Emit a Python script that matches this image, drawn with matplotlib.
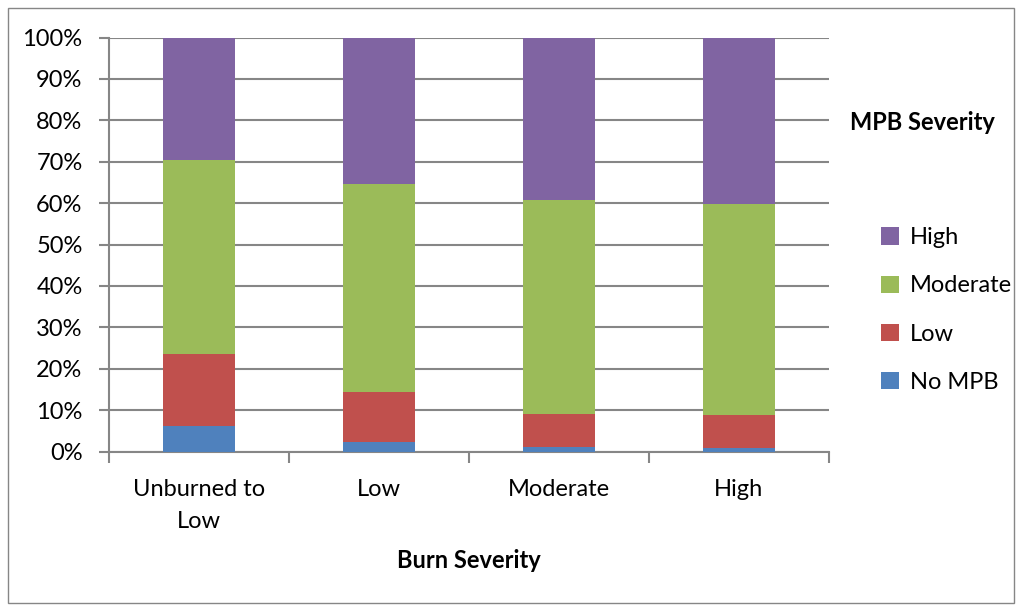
import numpy as np
import matplotlib.pyplot as plt
from matplotlib.patches import Rectangle

plt.rcParams["font.family"] = ["Lato", "DejaVu Sans"]

# burn severity classes and MPB severity shares (%)
burn = ["Unburned to\nLow", "Low", "Moderate", "High"]
mpb_levels = ["No MPB", "Low", "Moderate", "High"]
no_mpb = [6.2, 2.3, 1.0, 0.9]
low = [17.4, 12.1, 8.1, 7.8]
moderate = [46.8, 50.1, 51.6, 51.0]
high = [29.6, 35.5, 39.3, 40.3]

colors = ["#4F81BD", "#C0504D", "#9BBB59", "#8064A2"]
grid_col = "#868686"
fs = 17

fig = plt.figure(figsize=(10.18, 6.07), dpi=100)
ax = fig.add_axes([109 / 1018, 1 - 451.5 / 607, 720 / 1018, 414 / 607])

# outer chart border
fig.patches.append(Rectangle((8 / 1018, 4 / 607), 1006 / 1018, 595 / 607,
                             transform=fig.transFigure, fill=False,
                             edgecolor=grid_col, linewidth=1.0))

x = np.arange(len(burn))
bottom = np.zeros(len(burn))
series = [no_mpb, low, moderate, high]
handles = []
for vals, lab, c in zip(series, mpb_levels, colors):
    b = ax.bar(x, vals, 0.4, bottom=bottom, color=c, label=lab, zorder=3)
    handles.append(b)
    bottom += np.array(vals)

ax.set_xlim(-0.5, len(burn) - 0.5)
ax.set_ylim(0, 100)
ax.set_yticks(np.arange(0, 101, 10))
ax.set_yticklabels([f"{v}%" for v in range(0, 101, 10)], fontsize=fs)
ax.yaxis.grid(True, color=grid_col, linewidth=1.5, zorder=0)
ax.set_axisbelow(True)

ax.set_xticks(x)
ax.set_xticklabels(burn, fontsize=fs, linespacing=1.65)
ax.set_xticks(np.arange(-0.5, len(burn), 1), minor=True)
ax.tick_params(axis="x", which="major", length=0, pad=20)
ax.tick_params(axis="x", which="minor", length=8, color=grid_col, width=1.5)
ax.tick_params(axis="y", length=7, color=grid_col, width=1.5, pad=12)

for s in ["top", "right"]:
    ax.spines[s].set_visible(False)
for s in ["left", "bottom"]:
    ax.spines[s].set_color(grid_col)
    ax.spines[s].set_linewidth(1.5)

ax.set_xlabel("Burn Severity", fontsize=fs, fontweight="bold", labelpad=12)

fig.text(922 / 1018, 1 - 122 / 607, "MPB Severity", fontsize=fs,
         fontweight="bold", ha="center", va="center")
leg = fig.legend(handles[::-1], mpb_levels[::-1], loc="upper left",
                 bbox_to_anchor=(860 / 1018, 1 - 206 / 607), frameon=False,
                 fontsize=fs, handlelength=0.75, handleheight=0.75,
                 handletextpad=0.45, labelspacing=1.15)

fig.savefig("out.png", dpi=100)
